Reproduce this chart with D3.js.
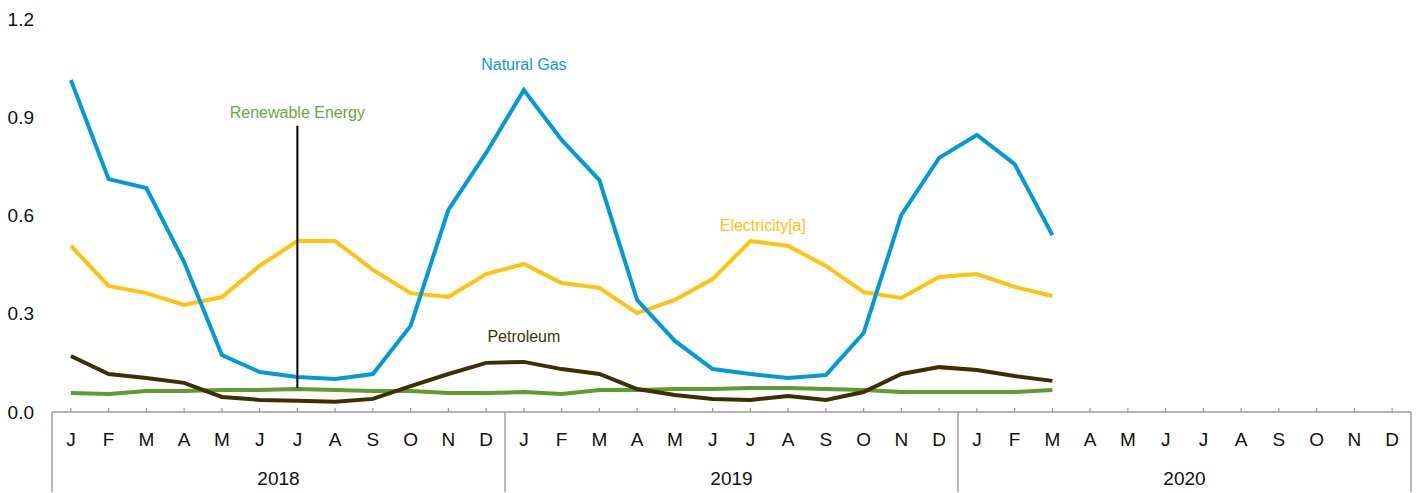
<!DOCTYPE html>
<html><head><meta charset="utf-8">
<script src="https://cdn.jsdelivr.net/npm/d3@7"></script>
<style>body{margin:0;background:#fff}svg{display:block;font-family:"Liberation Sans",Arial,sans-serif}</style>
</head><body><svg id="c" width="1421" height="493"></svg>
<script>
const years = ["2018","2019","2020"];
const monthLabels = ["J","F","M","A","M","J","J","A","S","O","N","D"];
const yTicks = [0,0.3,0.6,0.9,1.2];
const naturalGas = [1.014,0.711,0.684,0.458,0.174,0.122,0.107,0.101,0.116,0.263,0.617,0.791,
  0.983,0.831,0.708,0.342,0.217,0.131,0.116,0.104,0.113,0.241,0.602,0.776,
  0.846,0.757,0.540];
const electricity = [0.507,0.385,0.363,0.327,0.351,0.446,0.522,0.522,0.434,0.363,0.351,0.421,
  0.452,0.394,0.379,0.302,0.342,0.406,0.522,0.507,0.446,0.366,0.348,0.412,
  0.421,0.382,0.354];
const petroleum = [0.171,0.116,0.104,0.089,0.046,0.037,0.034,0.031,0.040,0.079,0.116,0.150,
  0.153,0.131,0.116,0.070,0.052,0.040,0.037,0.049,0.037,0.061,0.116,0.137,
  0.128,0.110,0.095];
const renewable = [0.058,0.055,0.064,0.064,0.067,0.067,0.070,0.067,0.064,0.064,0.058,0.058,
  0.061,0.055,0.067,0.067,0.070,0.070,0.073,0.073,0.070,0.067,0.061,0.061,
  0.061,0.061,0.067];

const svg = d3.select("#c");
const L = 52, R = 1411, B = 412, T = 19;
const slots = d3.range(years.length * 12);
const x = d3.scaleBand().domain(slots).range([L, R]).padding(0);
const y = d3.scaleLinear().domain([0, 1.2]).range([B, T]);
const cx = i => x(i) + x.bandwidth() / 2;
const gray = "#9a9a9a";

// y labels
svg.append("g").selectAll("text").data(yTicks).join("text")
  .attr("x", 34).attr("y", d => y(d)).attr("dy", "0.35em")
  .attr("text-anchor", "end").attr("font-size", 19).attr("fill", "#111")
  .text(d => d.toFixed(1));

// x axis baseline
svg.append("line").attr("x1", L).attr("x2", R).attr("y1", B).attr("y2", B)
  .attr("stroke", gray).attr("stroke-width", 1.6);
// month ticks
svg.append("g").selectAll("line").data(slots).join("line")
  .attr("x1", d => cx(d)).attr("x2", d => cx(d)).attr("y1", B - 4).attr("y2", B)
  .attr("stroke", gray).attr("stroke-width", 1.2);
// year separators
const seps = d3.range(years.length + 1).map(k => k * 12);
svg.append("g").selectAll("line").data(seps).join("line")
  .attr("x1", d => d < slots.length ? x(d) : R).attr("x2", d => d < slots.length ? x(d) : R)
  .attr("y1", B).attr("y2", 492).attr("stroke", gray).attr("stroke-width", 1.4);
// month labels
svg.append("g").selectAll("text").data(slots).join("text")
  .attr("x", d => cx(d)).attr("y", 439).attr("dy", "0.35em")
  .attr("text-anchor", "middle").attr("font-size", 19).attr("fill", "#111")
  .text(d => monthLabels[d % 12]);
// year labels
svg.append("g").selectAll("text").data(years).join("text")
  .attr("x", (d, i) => (x(i * 12) + (i * 12 + 12 < slots.length ? x(i * 12 + 12) : R)) / 2)
  .attr("y", 478).attr("dy", "0.35em")
  .attr("text-anchor", "middle").attr("font-size", 19).attr("fill", "#111")
  .text(d => d);

const line = d3.line().x((d, i) => cx(i)).y(d => y(d));
const series = [
  {v: renewable, c: "#5e9c32"},
  {v: petroleum, c: "#3d3000"},
  {v: electricity, c: "#ffc30f"},
  {v: naturalGas, c: "#009ad9"}
];
svg.append("g").selectAll("path").data(series).join("path")
  .attr("d", d => line(d.v)).attr("fill", "none").attr("stroke", d => d.c)
  .attr("stroke-width", 4).attr("stroke-linejoin", "miter");

// labels
const labs = [
  {t: "Natural Gas", i: 12, v: 1.06, c: "#0a9ad8"},
  {t: "Renewable Energy", i: 6, v: 0.914, c: "#6aa642"},
  {t: "Electricity[a]", i: 18.33, v: 0.57, c: "#ffc20e"},
  {t: "Petroleum", i: 12, v: 0.23, c: "#3f3306"}
];
svg.append("g").selectAll("text").data(labs).join("text")
  .attr("x", d => x(0) + x.bandwidth() * (d.i + 0.5)).attr("y", d => y(d.v)).attr("dy", "0.35em")
  .attr("text-anchor", "middle").attr("font-size", 16).attr("fill", d => d.c)
  .text(d => d.t);
// pointer for renewable
svg.append("line").attr("x1", cx(6)).attr("x2", cx(6))
  .attr("y1", y(0.874)).attr("y2", y(renewable[6]) - 1)
  .attr("stroke", "#000").attr("stroke-width", 2);
</script></body></html>
